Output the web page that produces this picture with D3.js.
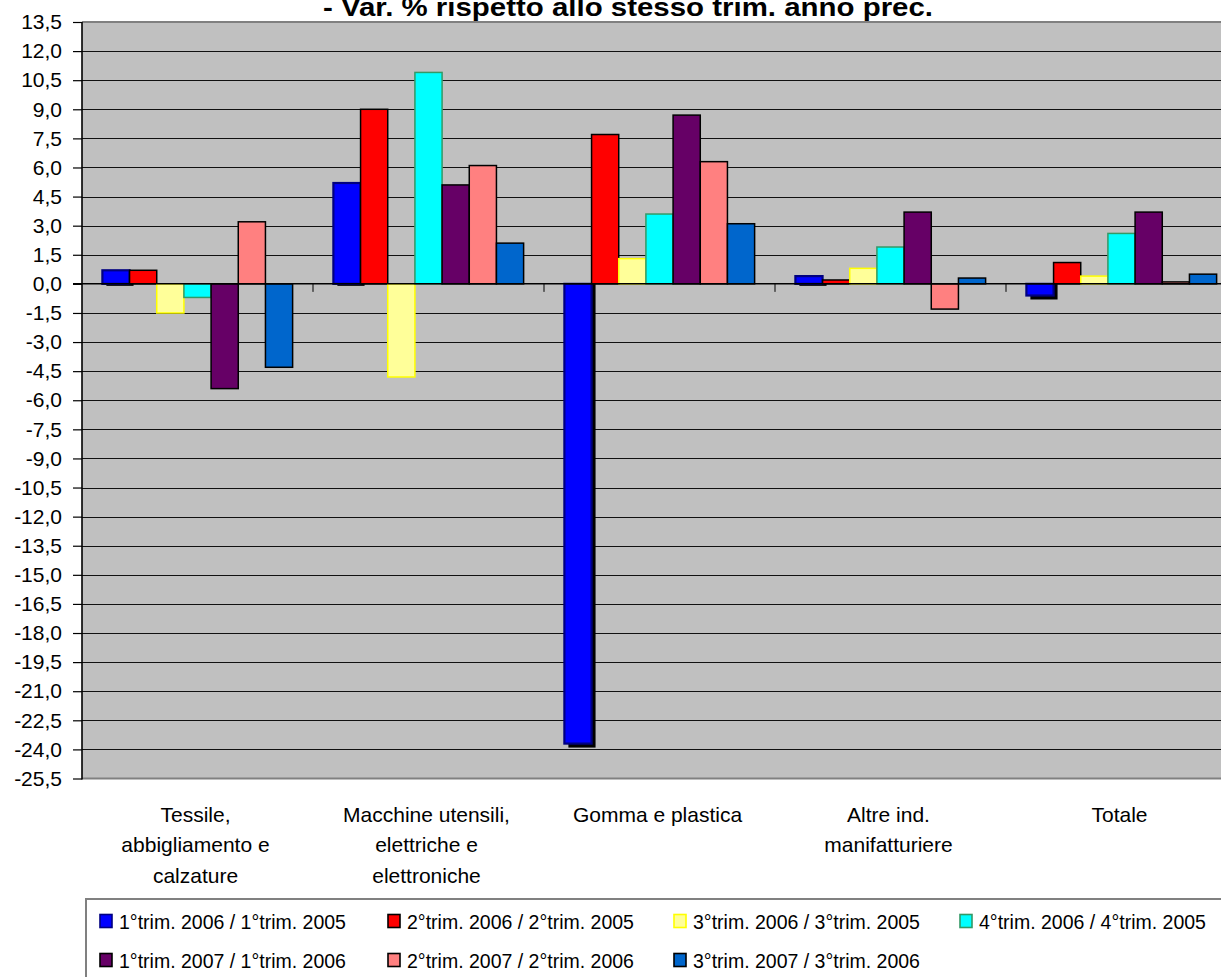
<!DOCTYPE html>
<html>
<head>
<meta charset="utf-8">
<script src="https://cdn.jsdelivr.net/npm/d3@7"></script>
<style>
  html, body { margin: 0; padding: 0; background: #ffffff; }
  svg { display: block; font-family: "Liberation Sans", Arial, sans-serif; }
</style>
</head>
<body>
<svg id="chart" width="1221" height="977"></svg>
<script>
// Sectors on the category axis (each entry is the list of label lines)
const categories = [
  ["Tessile,", "abbigliamento e", "calzature"],
  ["Macchine utensili,", "elettriche e", "elettroniche"],
  ["Gomma e plastica"],
  ["Altre ind.", "manifatturiere"],
  ["Totale"]
];
const categoryKeys = ["Tessile", "Macchine", "Gomma", "Altre", "Totale"];

// Series names (quarter vs same quarter of previous year)
const seriesNames = [
  "1°trim. 2006 / 1°trim. 2005",
  "2°trim. 2006 / 2°trim. 2005",
  "3°trim. 2006 / 3°trim. 2005",
  "4°trim. 2006 / 4°trim. 2005",
  "1°trim. 2007 / 1°trim. 2006",
  "2°trim. 2007 / 2°trim. 2006",
  "3°trim. 2007 / 3°trim. 2006"
];

// Percentage change, one array per series, in category order
const s1Trim2006 = [0.7, 5.2, -23.7, 0.4, -0.6];
const s2Trim2006 = [0.7, 9.0, 7.7, 0.2, 1.1];
const s3Trim2006 = [-1.5, -4.8, 1.3, 0.8, 0.4];
const s4Trim2006 = [-0.7, 10.9, 3.6, 1.9, 2.6];
const s1Trim2007 = [-5.4, 5.1, 8.7, 3.7, 3.7];
const s2Trim2007 = [3.2, 6.1, 6.3, -1.3, 0.1];
const s3Trim2007 = [-4.3, 2.1, 3.1, 0.3, 0.5];
const seriesValues = [s1Trim2006, s2Trim2006, s3Trim2006, s4Trim2006, s1Trim2007, s2Trim2007, s3Trim2007];

// Value axis ticks and their labels
const yTickValues = [13.5, 12, 10.5, 9, 7.5, 6, 4.5, 3, 1.5, 0, -1.5, -3, -4.5, -6, -7.5, -9, -10.5, -12, -13.5, -15, -16.5, -18, -19.5, -21, -22.5, -24, -25.5];
const yTickLabels = ["13,5", "12,0", "10,5", "9,0", "7,5", "6,0", "4,5", "3,0", "1,5", "0,0", "-1,5", "-3,0", "-4,5", "-6,0", "-7,5", "-9,0", "-10,5", "-12,0", "-13,5", "-15,0", "-16,5", "-18,0", "-19,5", "-21,0", "-22,5", "-24,0", "-25,5"];

const titleText = "- Var. % rispetto allo stesso trim. anno prec.";

// Fill / border per series
const seriesStyle = [
  { fill: "#0000ff", stroke: "#000080", sw: 2.2, shadow: true },
  { fill: "#ff0000", stroke: "#000000", sw: 1.5 },
  { fill: "#ffff99", stroke: "#ffff00", sw: 1.5 },
  { fill: "#00ffff", stroke: "#339966", sw: 1.5 },
  { fill: "#660066", stroke: "#000000", sw: 1.5 },
  { fill: "#ff8080", stroke: "#000000", sw: 1.5 },
  { fill: "#0066cc", stroke: "#000000", sw: 1.5 }
];

const svg = d3.select("#chart");
const plot = { left: 82, top: 22, bottom: 778.5, catWidth: 231 };
const plotRight = plot.left + plot.catWidth * categories.length;

const x = d3.scaleBand()
  .domain(categoryKeys)
  .range([plot.left, plotRight])
  .paddingInner(0).paddingOuter(0);

const xs = d3.scaleBand()
  .domain(d3.range(seriesNames.length))
  .range([0, x.bandwidth()])
  .paddingInner(0).paddingOuter(0.75);

const y = d3.scaleLinear()
  .domain([-25.5, 13.5])
  .range([plot.bottom, plot.top]);

// Plot background
svg.append("rect")
  .attr("x", plot.left).attr("y", plot.top)
  .attr("width", plotRight - plot.left).attr("height", plot.bottom - plot.top)
  .attr("fill", "#c0c0c0");

// Horizontal gridlines
svg.append("g")
  .selectAll("line")
  .data(yTickValues.filter(v => v !== 13.5 && v !== -25.5 && v !== 0))
  .join("line")
  .attr("x1", plot.left).attr("x2", plotRight)
  .attr("y1", d => Math.round(y(d)) + 0.5).attr("y2", d => Math.round(y(d)) + 0.5)
  .attr("stroke", "#111").attr("stroke-width", 1)
  .attr("shape-rendering", "crispEdges");

// Plot frame (top and bottom)
svg.append("line")
  .attr("x1", plot.left).attr("x2", plotRight)
  .attr("y1", plot.top).attr("y2", plot.top)
  .attr("stroke", "#808080").attr("stroke-width", 2);
svg.append("line")
  .attr("x1", plot.left).attr("x2", plotRight)
  .attr("y1", plot.bottom).attr("y2", plot.bottom)
  .attr("stroke", "#808080").attr("stroke-width", 2);

// Bars
const y0 = y(0);
const barData = [];
seriesValues.forEach((vals, si) => {
  vals.forEach((v, ci) => barData.push({ si, ci, v }));
});

// Shadow behind the first series
const shadowOff = 4;
svg.append("g")
  .selectAll("rect")
  .data(barData.filter(d => seriesStyle[d.si].shadow))
  .join("rect")
  .attr("x", d => x(categoryKeys[d.ci]) + xs(d.si) + shadowOff)
  .attr("y", d => d.v >= 0 ? y(d.v) + shadowOff : y0)
  .attr("width", xs.bandwidth())
  .attr("height", d => d.v >= 0 ? (y0 + 2) - (y(d.v) + shadowOff) : y(d.v) + shadowOff - y0)
  .attr("fill", "#000");

const barsG = svg.append("g");
seriesValues.forEach((vals, si) => {
  barsG.append("g")
    .selectAll("rect")
    .data(barData.filter(d => d.si === si))
    .join("rect")
    .attr("x", d => x(categoryKeys[d.ci]) + xs(d.si))
    .attr("y", d => Math.min(y(d.v), y0))
    .attr("width", xs.bandwidth())
    .attr("height", d => Math.max(Math.abs(y(d.v) - y0), 0.5))
    .attr("fill", seriesStyle[si].fill)
    .attr("stroke", seriesStyle[si].stroke)
    .attr("stroke-width", seriesStyle[si].sw);
});

// Zero line with category boundary ticks
svg.append("line")
  .attr("x1", plot.left - 9).attr("x2", plotRight)
  .attr("y1", y0).attr("y2", y0)
  .attr("stroke", "#000").attr("stroke-width", 1.5);
svg.append("g")
  .selectAll("line")
  .data(categoryKeys.slice(1))
  .join("line")
  .attr("x1", d => x(d)).attr("x2", d => x(d))
  .attr("y1", y0).attr("y2", y0 + 8)
  .attr("stroke", "#000").attr("stroke-width", 1);

// Value axis
const yAxis = d3.axisLeft(y)
  .tickValues(yTickValues)
  .tickFormat((d, i) => yTickLabels[i])
  .tickSize(9)
  .tickPadding(11);
const yAxisG = svg.append("g")
  .attr("transform", `translate(${plot.left},0)`)
  .call(yAxis);
yAxisG.select(".domain").remove();
yAxisG.selectAll(".tick line").attr("stroke", "#000").attr("stroke-width", 1.2);
yAxisG.selectAll(".tick text")
  .attr("fill", "#000")
  .attr("font-family", "'Liberation Sans', Arial, sans-serif")
  .attr("font-size", 21);
svg.append("line")
  .attr("x1", plot.left).attr("x2", plot.left)
  .attr("y1", plot.top).attr("y2", plot.bottom + 1)
  .attr("stroke", "#000").attr("stroke-width", 1.6);

// Category labels
const catG = svg.append("g")
  .attr("font-size", 21)
  .attr("fill", "#000")
  .attr("text-anchor", "middle");
categories.forEach((lines, i) => {
  const cx = x(categoryKeys[i]) + x.bandwidth() / 2 - 2;
  const t = catG.append("text").attr("x", cx).attr("y", 821.5);
  lines.forEach((ln, j) => {
    t.append("tspan").attr("x", cx).attr("dy", j === 0 ? 0 : 30.5).text(ln);
  });
});

// Title
svg.append("text")
  .attr("x", 628).attr("y", 16)
  .attr("text-anchor", "middle")
  .attr("font-size", 25)
  .attr("font-weight", "bold")
  .attr("textLength", 610)
  .attr("lengthAdjust", "spacingAndGlyphs")
  .text(titleText);

// Legend
svg.append("rect")
  .attr("x", 86).attr("y", 899)
  .attr("width", 1200).attr("height", 200)
  .attr("fill", "#ffffff")
  .attr("stroke", "#808080").attr("stroke-width", 2);

const legendCols = [100, 388, 674, 960];
const legendRows = [921, 960];
const legendG = svg.append("g");
seriesNames.forEach((name, i) => {
  const col = i < 4 ? i : i - 4;
  const row = i < 4 ? 0 : 1;
  const lx = legendCols[col], ly = legendRows[row];
  const st = seriesStyle[i];
  legendG.append("rect")
    .attr("x", lx).attr("y", ly - 6.5)
    .attr("width", 12).attr("height", 13)
    .attr("fill", st.fill)
    .attr("stroke", st.stroke === "#000080" ? "#000080" : st.stroke)
    .attr("stroke-width", 1.6);
  legendG.append("text")
    .attr("x", lx + 19).attr("y", ly + 7.5)
    .attr("font-size", 19.5)
    .attr("fill", "#000")
    .text(name);
});
</script>
</body>
</html>
